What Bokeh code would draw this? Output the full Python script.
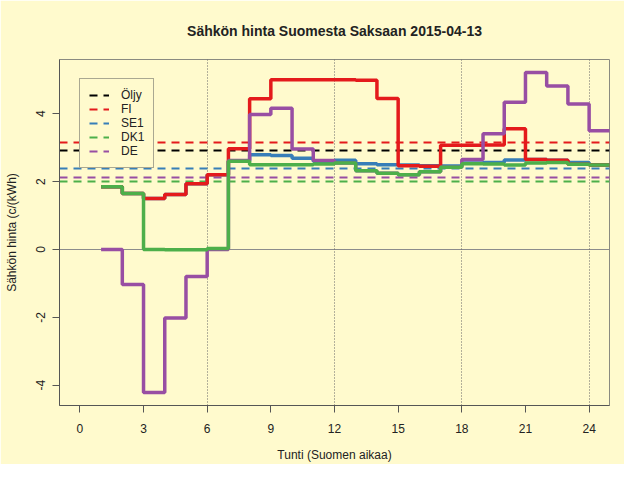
from bokeh.plotting import figure
from bokeh.models import Legend, LegendItem, Range1d, FixedTicker
from bokeh.embed import file_html
from bokeh.resources import INLINE

# ---- data ----
hour_edges = list(range(1, 26))          # step edges 1..25 (24 hourly values)
FI = [1.85, 1.65, 1.50, 1.62, 1.94, 2.20, 2.97, 4.44, 5.00, 5.00, 5.00, 5.00,
      4.99, 4.45, 2.47, 2.45, 3.07, 3.07, 3.08, 3.56, 2.65, 2.63, 2.51, 2.49]
SE1 = [1.85, 1.65, 1.50, 1.62, 1.94, 2.20, 2.60, 2.79, 2.77, 2.69, 2.60, 2.63,
       2.53, 2.50, 2.49, 2.47, 2.46, 2.55, 2.56, 2.64, 2.65, 2.63, 2.56, 2.50]
DK1 = [1.85, 1.65, 0.00, -0.01, -0.01, 0.03, 2.60, 2.50, 2.50, 2.50, 2.52, 2.55,
       2.32, 2.25, 2.20, 2.29, 2.42, 2.53, 2.52, 2.49, 2.55, 2.56, 2.51, 2.49]
DE = [0.00, -1.03, -4.22, -2.02, -0.80, 0.00, 2.62, 3.98, 4.16, 2.96, 2.62, 2.55,
      2.32, 2.25, 2.20, 2.29, 2.42, 2.65, 3.41, 4.34, 5.22, 4.82, 4.29, 3.50]
avg_names = ["Öljy", "FI", "SE1", "DK1", "DE"]
avg_values = [2.91, 3.16, 2.38, 2.00, 2.11]
x_ticks = [0, 3, 6, 9, 12, 15, 18, 21, 24]
y_ticks = [-4, -2, 0, 2, 4]
y_tick_labels = ["-4", "-2", "0", "2", "4"]
grid_x = [6, 12, 18, 24]

BG = "#FFFACD"
colors = {"Öljy": "#000000", "FI": "#E41A1C", "SE1": "#377EB8",
          "DK1": "#4DAF4A", "DE": "#984EA3"}
FONT = "Liberation Sans"

p = figure(width=624, height=464, output_backend="svg", toolbar_location=None,
           x_range=Range1d(-0.96, 24.96), y_range=Range1d(-4.6, 5.6),
           min_border_left=59, min_border_right=15, min_border_top=59,
           min_border_bottom=57, background_fill_color=BG, border_fill_color=BG,
           outline_line_color="#8a8a80")
p.grid.visible = False

p.title.text = "Sähkön hinta Suomesta Saksaan 2015-04-13"
p.title.align = "center"
p.title.vertical_align = "middle"
p.title.text_font = FONT
p.title.text_font_size = "14px"
p.title.text_font_style = "bold"
p.title.text_color = "#222222"
p.title.standoff = 40

for ax in (p.xaxis[0], p.yaxis[0]):
    ax.axis_line_color = "#555555"
    ax.major_tick_line_color = "#555555"
    ax.minor_tick_line_color = None
    ax.major_tick_in = 0
    ax.major_tick_out = 7
    ax.major_label_text_font = FONT
    ax.major_label_text_font_size = "12px"
    ax.major_label_text_color = "#222222"
    ax.axis_label_text_font = FONT
    ax.axis_label_text_font_size = "12px"
    ax.axis_label_text_font_style = "normal"
    ax.axis_label_text_color = "#222222"

p.xaxis.ticker = FixedTicker(ticks=x_ticks)
p.yaxis.ticker = FixedTicker(ticks=y_ticks)
p.yaxis.major_label_overrides = dict(zip(y_ticks, y_tick_labels))
p.yaxis.major_label_orientation = "vertical"
p.xaxis.major_label_standoff = 11
p.yaxis.major_label_standoff = 7
p.xaxis.axis_label = "Tunti (Suomen aikaa)"
p.yaxis.axis_label = "Sähkön hinta (c/(kWh)"
p.xaxis.axis_label_standoff = 12
p.yaxis.axis_label_standoff = 15

# reference lines
p.hspan(y=[0], line_color="#8c8c8c", line_width=1.2)
p.vspan(x=grid_x, line_color="#666666", line_width=1, line_dash="1 2")

# average (dashed) lines
legend_items = []
for name, val in zip(avg_names, avg_values):
    r = p.hspan(y=[val], line_color=colors[name], line_width=2, line_dash="8 6")
    legend_items.append(LegendItem(label=name, renderers=[r]))

# hourly step lines
def steps(vals, name):
    p.step(x=hour_edges, y=vals + [vals[-1]], mode="after",
           line_color=colors[name], line_width=3.5)

steps(SE1, "SE1")
steps(FI, "FI")
steps(DE, "DE")
steps(DK1, "DK1")

legend = Legend(items=legend_items, location=(20, 237), glyph_width=20,
                glyph_height=14, label_height=14, spacing=0, padding=9,
                label_standoff=12, margin=0, border_line_color="#555555",
                background_fill_color=BG, background_fill_alpha=1.0,
                label_text_font=FONT, label_text_font_size="12px",
                label_text_color="#222222")
p.add_layout(legend)

open("out.html", "w").write(file_html(p, INLINE))
